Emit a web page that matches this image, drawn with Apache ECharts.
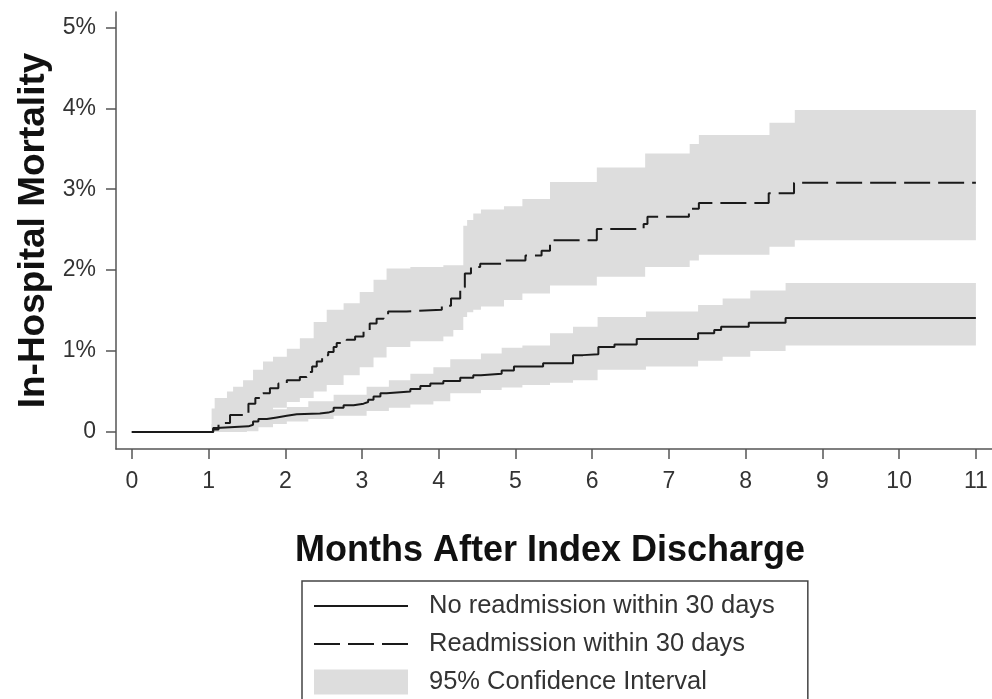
<!DOCTYPE html>
<html>
<head>
<meta charset="utf-8">
<script src="https://cdn.jsdelivr.net/npm/echarts@6/dist/echarts.min.js"></script>
<style>
  html, body { margin: 0; padding: 0; background: #ffffff; }
  #chart { width: 992px; height: 699px; }
</style>
</head>
<body>
<div id="chart"></div>
<script>
// ---------- data (months, in-hospital mortality %) ----------
var xTickValues = [0, 1, 2, 3, 4, 5, 6, 7, 8, 9, 10, 11];
var xTickLabels = ['0', '1', '2', '3', '4', '5', '6', '7', '8', '9', '10', '11'];
var yTickValues = [0, 1, 2, 3, 4, 5];
var yTickLabels = ['0', '1%', '2%', '3%', '4%', '5%'];

var seriesNames = ['No readmission within 30 days', 'Readmission within 30 days', '95% Confidence Interval'];

// No readmission within 30 days (step curve)
var noReadmX = [0, 1.06, 1.10, 1.52, 1.58, 1.65, 1.76, 1.89, 2.02, 2.15, 2.45, 2.56, 2.63, 2.76, 2.89, 3.02, 3.08, 3.15, 3.24, 3.32, 3.63, 3.76, 3.89, 4.06, 4.28, 4.45, 4.55, 4.82, 4.98, 5.36, 5.75, 5.88, 6.08, 6.29, 6.58, 7.38, 7.59, 7.68, 8.04, 8.52, 11.0];
var noReadmY = [0, 0.05, 0.07, 0.09, 0.13, 0.16, 0.18, 0.20, 0.22, 0.23, 0.24, 0.26, 0.30, 0.33, 0.35, 0.37, 0.40, 0.44, 0.48, 0.50, 0.53, 0.57, 0.60, 0.63, 0.67, 0.70, 0.72, 0.76, 0.81, 0.85, 0.95, 0.96, 1.05, 1.08, 1.15, 1.22, 1.26, 1.30, 1.35, 1.41, 1.41];

// Readmission within 30 days (step curve)
var readmX = [0, 1.06, 1.13, 1.28, 1.52, 1.61, 1.71, 1.80, 1.91, 2.02, 2.19, 2.28, 2.35, 2.41, 2.48, 2.56, 2.63, 2.67, 2.80, 2.91, 3.02, 3.10, 3.19, 3.28, 3.34, 3.58, 4.04, 4.16, 4.28, 4.34, 4.42, 4.54, 4.85, 5.13, 5.34, 5.45, 6.06, 6.67, 6.72, 7.26, 7.39, 8.30, 8.63, 11.0];
var readmY = [0, 0.03, 0.11, 0.21, 0.35, 0.42, 0.48, 0.54, 0.60, 0.64, 0.68, 0.74, 0.81, 0.87, 0.95, 0.99, 1.05, 1.10, 1.14, 1.18, 1.24, 1.34, 1.40, 1.44, 1.49, 1.51, 1.56, 1.65, 1.79, 1.96, 2.04, 2.08, 2.12, 2.18, 2.24, 2.37, 2.51, 2.57, 2.66, 2.76, 2.83, 2.95, 3.08, 3.08];

// 95% CI, readmission group (value holds from x[i] to x[i+1])
var readmCiX  = [1.04, 1.08, 1.24, 1.32, 1.45, 1.58, 1.71, 1.84, 2.02, 2.19, 2.37, 2.54, 2.76, 2.97, 3.15, 3.32, 3.63, 4.06, 4.19, 4.32, 4.37, 4.45, 4.55, 4.85, 5.09, 5.45, 6.06, 6.69, 7.27, 7.39, 8.31, 8.64, 11.0];
var readmCiLo = [0, 0, 0.02, 0.04, 0.08, 0.15, 0.22, 0.30, 0.37, 0.42, 0.50, 0.58, 0.70, 0.80, 0.92, 1.05, 1.12, 1.18, 1.26, 1.42, 1.48, 1.51, 1.55, 1.63, 1.71, 1.81, 1.92, 2.04, 2.12, 2.19, 2.29, 2.37, 2.37];
var readmCiHi = [0.29, 0.42, 0.50, 0.56, 0.64, 0.77, 0.87, 0.93, 1.03, 1.16, 1.36, 1.51, 1.59, 1.73, 1.88, 2.02, 2.04, 2.06, 2.06, 2.55, 2.62, 2.70, 2.75, 2.79, 2.88, 3.09, 3.27, 3.44, 3.56, 3.67, 3.82, 3.98, 3.98];

// 95% CI, no-readmission group
var noReadmCiX  = [1.04, 1.50, 1.65, 1.84, 2.02, 2.30, 2.63, 3.06, 3.35, 3.63, 3.93, 4.15, 4.55, 4.82, 5.09, 5.45, 5.75, 6.07, 6.70, 7.38, 7.70, 8.06, 8.52, 11.0];
var noReadmCiLo = [0, 0.01, 0.06, 0.10, 0.13, 0.16, 0.20, 0.26, 0.30, 0.34, 0.38, 0.48, 0.52, 0.55, 0.58, 0.61, 0.64, 0.77, 0.81, 0.88, 0.93, 1.00, 1.07, 1.07];
var noReadmCiHi = [0.10, 0.16, 0.24, 0.28, 0.31, 0.38, 0.46, 0.56, 0.64, 0.72, 0.80, 0.90, 0.97, 1.04, 1.07, 1.22, 1.30, 1.42, 1.49, 1.57, 1.65, 1.75, 1.84, 1.84];

// ---------- build ----------
function pairs(xs, ys) { return xs.map(function (x, i) { return [x, ys[i]]; }); }
function rows(xs, lo, hi) { return xs.map(function (x, i) { return [x, lo[i], hi[i]]; }); }

var FONT = "'Liberation Sans', Arial, Helvetica, sans-serif";
var CI_COLOR = '#dddddd';
var LINE_COLOR = '#1a1a1a';

// step band polygon: value at row i holds from x[i] to x[i+1]
function renderBand(params, api) {
  if (params.dataIndexInside !== 0) return null;
  var n = params.dataInsideLength;
  var upper = [], lower = [];
  for (var i = 0; i < n; i++) {
    var x0 = api.value(0, i), lo = api.value(1, i), hi = api.value(2, i);
    var x1 = i < n - 1 ? api.value(0, i + 1) : x0;
    upper.push(api.coord([x0, hi]));
    upper.push(api.coord([x1, hi]));
    lower.push(api.coord([x0, lo]));
    lower.push(api.coord([x1, lo]));
  }
  var pts = upper.concat(lower.reverse());
  return {
    type: 'polygon',
    shape: { points: pts },
    style: { fill: CI_COLOR, stroke: null },
    silent: true
  };
}

function bandSeries(xs, lo, hi) {
  return {
    name: seriesNames[2], type: 'custom', z: 1, silent: true,
    itemStyle: { color: CI_COLOR },
    encode: { x: 0, y: [1, 2] },
    renderItem: renderBand,
    data: rows(xs, lo, hi)
  };
}

var series = [
  bandSeries(readmCiX, readmCiLo, readmCiHi),
  bandSeries(noReadmCiX, noReadmCiLo, noReadmCiHi),
  {
    name: seriesNames[0], type: 'line', step: 'end', symbol: 'none', z: 3,
    itemStyle: { color: LINE_COLOR },
    lineStyle: { color: LINE_COLOR, width: 2, type: 'solid' },
    data: pairs(noReadmX, noReadmY)
  },
  {
    name: seriesNames[1], type: 'line', step: 'end', symbol: 'none', z: 3,
    itemStyle: { color: LINE_COLOR },
    lineStyle: { color: LINE_COLOR, width: 2, type: [26, 8] },
    data: pairs(readmX, readmY)
  }
];

var chart = echarts.init(document.getElementById('chart'), null, { renderer: 'canvas' });
chart.setOption({
  animation: false,
  backgroundColor: '#ffffff',
  textStyle: { fontFamily: FONT },
  grid: { left: 116, right: 0, top: 12, bottom: 250, containLabel: false, outerBoundsMode: 'none' },
  xAxis: {
    type: 'value',
    min: -0.206, max: 11.21,
    name: 'Months After Index Discharge',
    nameLocation: 'middle',
    nameGap: 84,
    nameTextStyle: { fontFamily: FONT, fontSize: 36, fontWeight: 'bold', color: '#111', padding: [0, 8, 0, 0] },
    axisLine: { show: true, onZero: false, lineStyle: { color: '#555', width: 1.5 } },
    axisTick: { show: true, length: 10, customValues: xTickValues, lineStyle: { color: '#555', width: 1.5 } },
    axisLabel: {
      show: true, margin: 21, fontSize: 23, color: '#333', fontFamily: FONT,
      customValues: xTickValues,
      formatter: function (v) { var i = xTickValues.indexOf(v); return i >= 0 ? xTickLabels[i] : ''; }
    },
    splitLine: { show: false }
  },
  yAxis: {
    type: 'value',
    min: -0.21, max: 5.19,
    name: 'In-Hospital Mortality',
    nameLocation: 'middle',
    nameGap: 62,
    nameRotate: 90,
    nameTextStyle: { fontFamily: FONT, fontSize: 37, fontWeight: 'bold', color: '#111' },
    axisLine: { show: true, onZero: false, lineStyle: { color: '#555', width: 1.5 } },
    axisTick: { show: true, length: 10, customValues: yTickValues, lineStyle: { color: '#555', width: 1.5 } },
    axisLabel: {
      show: true, margin: 20, fontSize: 23, color: '#333', fontFamily: FONT,
      customValues: yTickValues,
      formatter: function (v) { var i = yTickValues.indexOf(v); return i >= 0 ? yTickLabels[i] : ''; }
    },
    splitLine: { show: false }
  },
  legend: {
    orient: 'vertical',
    left: 302, top: 581,
    height: 140,
    itemWidth: 94, itemHeight: 25, itemGap: 12,
    padding: [12, 33, 40, 11],
    borderColor: '#444', borderWidth: 1.5,
    selectedMode: false,
    textStyle: { fontFamily: FONT, fontSize: 25.5, color: '#333', padding: [0, 0, 0, 16] },
    data: [
      { name: seriesNames[0], itemStyle: { opacity: 0 } },
      { name: seriesNames[1], itemStyle: { opacity: 0 } },
      { name: seriesNames[2], icon: 'rect', itemStyle: { color: CI_COLOR, borderWidth: 0 } }
    ]
  },
  series: series
});
</script>
</body>
</html>
